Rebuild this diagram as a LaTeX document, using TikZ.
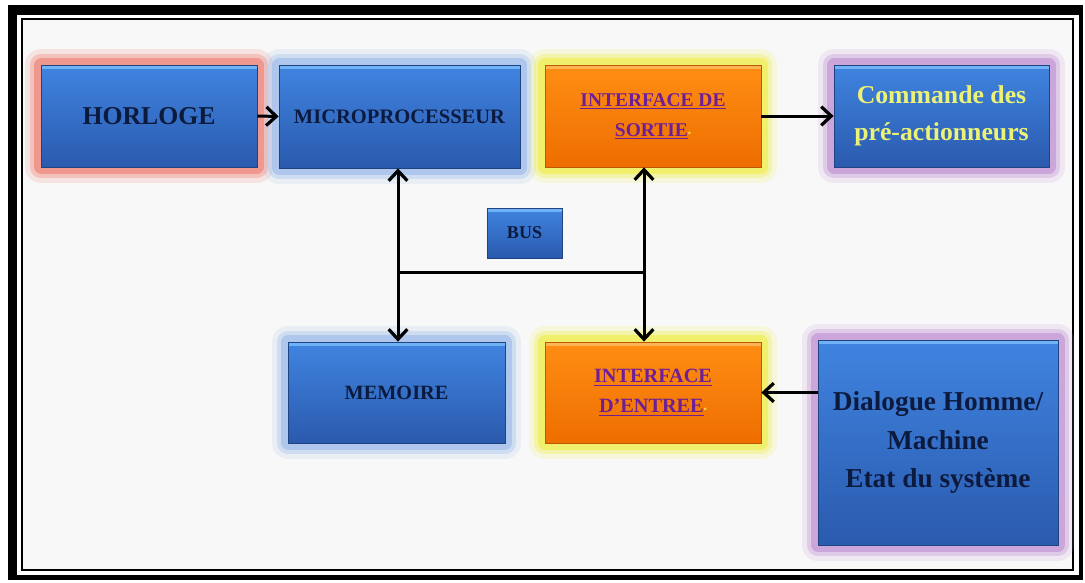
\documentclass[tikz,border=0pt]{standalone}
\usepackage{fontspec}
\setmainfont{Liberation Serif}
\usetikzlibrary{arrows.meta}

\definecolor{boxtop}{RGB}{64,132,224}
\definecolor{boxbot}{RGB}{42,90,174}
\definecolor{boxhi}{RGB}{112,178,246}
\definecolor{orgtop}{RGB}{255,142,20}
\definecolor{orgbot}{RGB}{238,110,0}
\definecolor{orghi}{RGB}{255,180,84}
\definecolor{navytext}{RGB}{12,26,62}
\definecolor{linktext}{RGB}{110,30,150}
\definecolor{cmdtext}{RGB}{236,242,118}
\definecolor{dotyellow}{RGB}{250,220,60}
\definecolor{glowred}{RGB}{240,118,104}
\definecolor{glowblue}{RGB}{150,182,234}
\definecolor{glowyellow}{RGB}{240,238,60}
\definecolor{glowpurple}{RGB}{188,138,208}
\definecolor{panel}{RGB}{248,248,248}

\tikzset{every picture/.style={line width=0.75pt}}
\tikzset{
  glow/.style={preaction={draw=#1, line width=24pt, draw opacity=0.15, line join=round},
               preaction={draw=#1, line width=17pt, draw opacity=0.3, line join=round},
               preaction={draw=#1, line width=10pt, draw opacity=0.55, line join=round}},
  bluebox/.style={top color=boxtop, bottom color=boxbot, draw=boxbot!75!black,
                  line width=0.6pt, inner sep=0pt, align=center, text=navytext,
                  path picture={\fill[boxhi] (path picture bounding box.north west)
                    rectangle ([yshift=-3pt]path picture bounding box.north east);}},
  orangebox/.style={top color=orgtop, bottom color=orgbot, draw=orgbot!80!black,
                  line width=0.6pt, inner sep=0pt, align=center, text=linktext,
                  path picture={\fill[orghi] (path picture bounding box.north west)
                    rectangle ([yshift=-3pt]path picture bounding box.north east);}},
  buswire/.style={line width=2.25pt},
  barb/.tip={Straight Barb[length=7.5pt,width=14pt,line width=2.4pt]},
}
\newcommand{\boxfont}[2]{\fontsize{#1}{#2}\selectfont\bfseries}
\newcommand{\linkdot}{{\color{dotyellow}\fontsize{7}{7}\selectfont\textbullet}}

\begin{document}
\begin{tikzpicture}[x=0.75pt,y=0.75pt,yscale=-1,xscale=1]
    \useasboundingbox (0,0) rectangle (1085,582);

    %Frame
    \fill [black] (8,5) rectangle (1083,580) ;
    \fill [white] (17,15) rectangle (1079,575) ;
    \draw [line width=1.5pt, fill=panel] (22,19) rectangle (1073,570) ;

    %Shape: Rectangle (top row)
    \node [bluebox, glow=glowred, minimum width=162pt, minimum height=76.5pt,
      font=\boxfont{19.3}{23}] (horloge) at (149,116) {HORLOGE};
    \node [bluebox, glow=glowblue, minimum width=180.75pt, minimum height=77.25pt,
      font=\boxfont{15.4}{18}] (micro) at (399.5,116.5) {MICROPROCESSEUR};
    \node [orangebox, glow=glowyellow, minimum width=162pt, minimum height=76.5pt,
      font=\boxfont{14.6}{22.5}] (sortie) at (653,116) {\underline{INTERFACE DE}\\ \underline{SORTIE}\linkdot};
    \node [bluebox, glow=glowpurple, text=cmdtext, minimum width=161.25pt, minimum height=76.5pt,
      font=\boxfont{19.3}{27.5}] (commande) at (941.5,116) {Commande des\\ pré-actionneurs};

    %Shape: Rectangle (bus label)
    \node [bluebox, minimum width=56.25pt, minimum height=37.5pt,
      font=\boxfont{13.5}{16}] (bus) at (524.5,233) {BUS};

    %Shape: Rectangle (bottom row)
    \node [bluebox, glow=glowblue, minimum width=162.75pt, minimum height=75.75pt,
      font=\boxfont{15.2}{18}] (memoire) at (396.5,392.5) {MEMOIRE};
    \node [orangebox, glow=glowyellow, minimum width=162pt, minimum height=75.75pt,
      font=\boxfont{15.2}{22.5}] (entree) at (653,392.5) {\underline{INTERFACE}\\ \underline{D'ENTREE}\linkdot};
    \node [bluebox, glow=glowpurple, minimum width=180pt, minimum height=153.75pt,
      font=\boxfont{20.5}{29}] (dialogue) at (938,442.5) {Dialogue Homme/\\ Machine\\ Etat du système};

    %Bus junctions
    \coordinate (busL) at (398,272) ;
    \coordinate (busR) at (644,272) ;

    %Straight Lines
    \draw [buswire, -barb] (horloge.east) -- (micro.west) ;
    \draw [buswire, -barb] (sortie.east) -- (commande.west) ;
    \draw [buswire, -barb] (dialogue.west |- entree.east) -- (entree.east) ;
    \draw [buswire, barb-barb] (micro.south -| busL) -- (memoire.north -| busL) ;
    \draw [buswire, barb-barb] (sortie.south -| busR) -- (entree.north -| busR) ;
    \draw [buswire] (busL) -- (busR) ;

\end{tikzpicture}
\end{document}
